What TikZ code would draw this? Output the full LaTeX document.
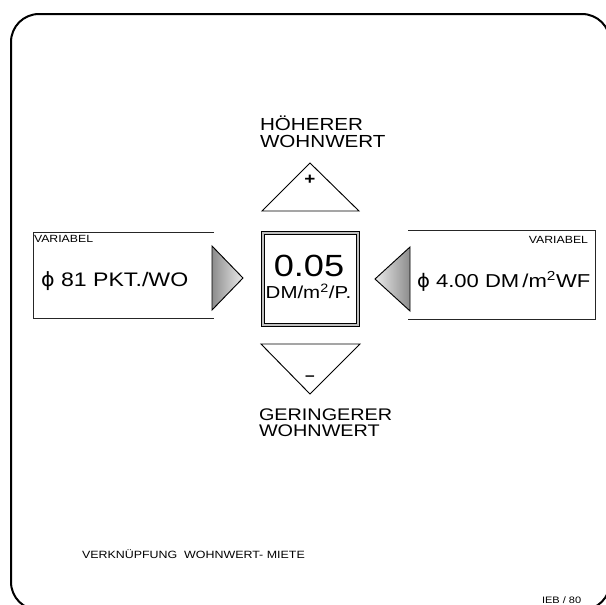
\documentclass[tikz,border=0pt]{standalone}
\usepackage{fontspec}
\setmainfont{Liberation Sans}[FakeStretch=1.18]
\newfontfamily\phifont{DejaVu Sans}[FakeStretch=1.05]
\newcommand{\phisym}{{\phifont ϕ}}

\begin{document}
\begin{tikzpicture}[
  x=0.75pt, y=-0.75pt,
  every node/.style={inner sep=0pt, outer sep=0pt},
  side/.style={line width=0.6pt, draw=black!85},
  pointer/.style={draw, line width=0.7pt, line join=miter},
  label/.style={align=left, anchor=base west, font=\fontsize{13.1pt}{12.75pt}\selectfont},
  small/.style={font=\fontsize{7.8pt}{9pt}\selectfont},
  value/.style={anchor=base west, font=\fontsize{14.7pt}{16pt}\selectfont}
]
\useasboundingbox (0,0) rectangle (606,604);
\clip (0,0) rectangle (606,604);
% frame
\draw[line width=1.5pt, rounded corners=21pt] (11,14) rectangle (610,610);

% centre box
\node[draw, double=black!25, double distance=1.8pt, line width=0.7pt,
      minimum width=71pt, minimum height=68.8pt] (mid) at (310.5,279) {};
\node[font=\fontsize{23pt}{24pt}\selectfont] (val) at (309,266) {0.05};
\node[anchor=base, font=\fontsize{13pt}{14pt}\selectfont] (unit) at (308.5,298) {DM/m\textsuperscript{2}/P.};

% left box
\node[minimum width=135.75pt, minimum height=64.5pt] (lbox) at (123.5,275) {};
\draw[side] (lbox.north east) -- (lbox.north west) -- (lbox.south west) -- (lbox.south east);
\node[small, anchor=base west] (lvar) at (34,242) {VARIABEL};
\node[value] (lval) at (41,286) {\phisym\ 81 PKT./WO};

% right box
\node[minimum width=140.25pt, minimum height=66.75pt] (rbox) at (501.5,274.5) {};
\draw[side] (rbox.north west) -- (rbox.north east) -- (rbox.south east) -- (rbox.south west);
\node[small, anchor=base east] (rvar) at (588,243) {VARIABEL};
\node[value, font=\fontsize{14pt}{16pt}\selectfont] (rval) at (417,287) {\phisym\ 4.00 DM\,/m\textsuperscript{2}WF};

% pointers
\draw[pointer, left color=black!45, right color=black!8] (212,246) -- (243,278) -- (212,310) -- cycle;
\draw[pointer, left color=black!8, right color=black!45] (410,247) -- (375,279) -- (410,311) -- cycle;
\draw[pointer] (262,211) -- (310,163) -- (359,211) -- cycle;
\draw[pointer] (261,344) -- (310,394) -- (360,344) -- cycle;
\node[font=\bfseries\fontsize{12pt}{12pt}\selectfont] (plus) at (310,180) {+};
\node[font=\bfseries\fontsize{11pt}{12pt}\selectfont] (minus) at (310,378) {--};

% labels
\node[label] (high) at (260,147) {HÖHERER\\WOHNWERT};
\node[label, font=\fontsize{12.6pt}{12pt}\selectfont] (low) at (259,436) {GERINGERER\\WOHNWERT};
\node[anchor=base west, font=\fontsize{7.9pt}{9pt}\selectfont] (caption) at (82,558) {VERKNÜPFUNG~ WOHNWERT- MIETE};
\node[anchor=base west, font=\fontsize{7pt}{8pt}\selectfont] (code) at (542,603) {IEB / 80};
\end{tikzpicture}
\end{document}
